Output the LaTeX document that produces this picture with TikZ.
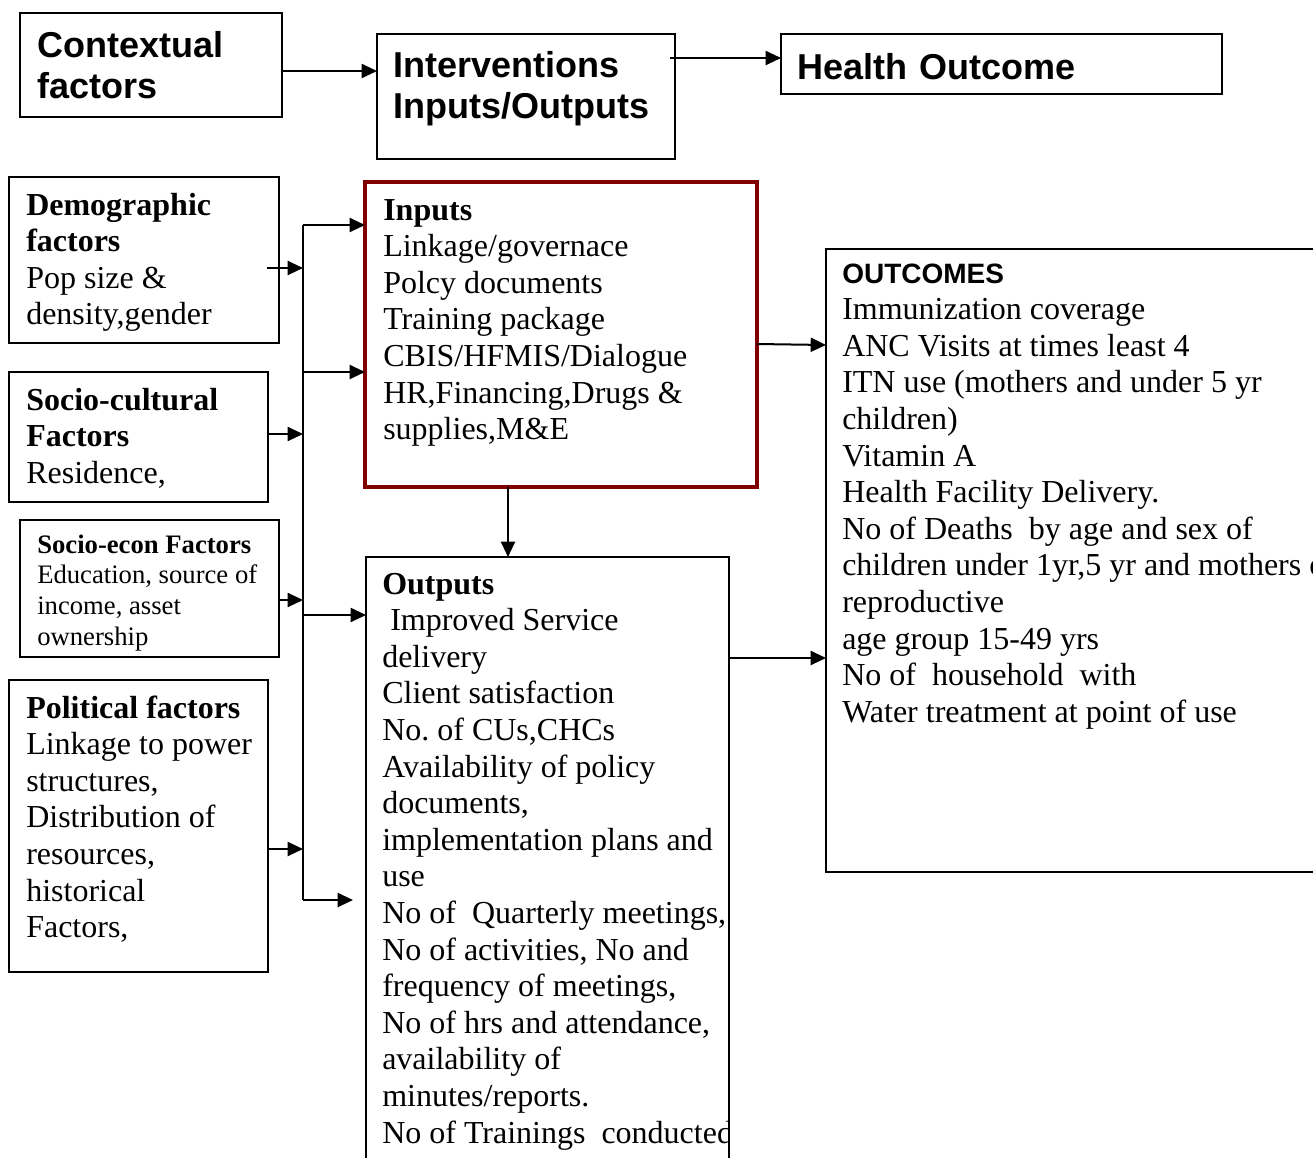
\documentclass[tikz,border=0pt]{standalone}
\usepackage{fontspec}
\setmainfont{Liberation Serif}
\setsansfont{Liberation Sans}
\usetikzlibrary{arrows.meta,fit}
\definecolor{boxred}{RGB}{128,0,0}
\frenchspacing
\newcommand\mytightsp{\spaceskip 0.25em\relax\xspaceskip 0.25em\relax}
\begin{document}
\begin{tikzpicture}[x=0.75pt,y=-0.75pt,
  boxst/.style={draw=black,line width=1.5pt,inner sep=0pt,outer sep=0pt},
  redbox/.style={boxst,draw=boxred,line width=3pt},
  arr/.style={line width=1.5pt,-{Triangle[length=11.5pt,width=10.5pt]}},
  ln/.style={line width=1.5pt},
  serif/.style={anchor=base west,inner sep=0pt,align=left,text width=520pt,font=\fontsize{24}{27.45}\selectfont,execute at begin node=\mytightsp},
  serifsm/.style={anchor=base west,inner sep=0pt,align=left,text width=300pt,font=\fontsize{20}{23}\selectfont,execute at begin node=\mytightsp},
  head/.style={anchor=base west,inner sep=0pt,align=left,text width=400pt,font=\sffamily\bfseries\fontsize{27}{31}\selectfont}]
\useasboundingbox (0,0) rectangle (1313,1157);
\clip (0,0) rectangle (1313,1157);

% top row
\node[boxst, fit={(20,13) (282,117)}] (ctx) {};
\node[boxst, fit={(377,34) (675,159)}] (intv) {};
\node[boxst, fit={(781,34) (1222,94)}] (hout) {};
\node[head] (ctxt) at (37,57) {Contextual\\factors};
\node[head] (intvt) at (393,77) {Interventions\\Inputs/Outputs};
\node[head] (houtt) at (797,79) {Health Outcome};
\draw[arr] (ctx.east |- 0,71) -- (intv.west |- 0,71);
\coordinate (io1) at (670,58);
\draw[arr] (io1) -- (hout.west |- io1);

% left factor boxes
\node[boxst, fit={(9,177) (279,343)}] (demo) {};
\node[boxst, fit={(9,372) (268,502)}] (socu) {};
\node[boxst, fit={(20,520) (279,657)}] (soec) {};
\node[boxst, fit={(9,680) (268,972)}] (poli) {};
\node[serif] (demot) at (26,215) {\textbf{Demographic}\\\textbf{factors}\\Pop size \&\\density,gender};
\node[serif] (socut) at (26,410) {\textbf{Socio-cultural}\\\textbf{Factors}\\Residence,};
\node[serifsm] (soect) at (37,553) {\textbf{Socio-econ Factors}\\Education, source of\\income, asset\\ownership};
\node[serif] (polit) at (26,718) {\textbf{Political factors}\\Linkage to power\\structures,\\Distribution of\\resources,\\historical\\Factors,};

% bus
\coordinate (busT) at (303,225);
\coordinate (busB) at (303,900);
\draw[ln] (busT) -- (busB);
\coordinate (demoOut) at (267,268);
\draw[arr] (demoOut) -- (demoOut -| busT);
\draw[arr] (socu.east |- 0,434) -- (busT |- 0,434);
\draw[arr] (soec.east |- 0,600) -- (busT |- 0,600);
\draw[arr] (poli.east |- 0,849) -- (busT |- 0,849);

% inputs / outputs
\node[redbox, fit={(365,182) (757,487)}] (inp) {};
\node[serif] (inpt) at (383,220) {\textbf{Inputs}\\Linkage/governace\\Polcy documents\\Training package\\CBIS/HFMIS/Dialogue\\HR,Financing,Drugs \&\\supplies,M\&E};
\node[boxst, fit={(366,557) (729,1200)}] (outp) {};
\begin{scope}
\clip (366,557) rectangle (728,1157);
\node[serif] (outpt) at (382,594) {\textbf{Outputs}\\\hspace*{6pt}Improved Service\\delivery\\Client satisfaction\\No. of CUs,CHCs\\Availability of policy\\documents,\\implementation plans and\\use\\No of\ \ Quarterly meetings,\\No of activities, No and\\frequency of meetings,\\No of hrs and attendance,\\availability of\\minutes/reports.\\No of Trainings\ \ conducted};
\end{scope}

\draw[arr] (busT) -- (inp.west |- busT);
\coordinate (b2) at (303,372);
\draw[arr] (b2) -- (inp.west |- b2);
\coordinate (b3) at (303,615);
\draw[arr] (b3) -- (outp.west |- b3);
\coordinate (b4tip) at (353,900);
\draw[arr] (busB) -- (b4tip);
\coordinate (io) at (508,487);
\draw[arr] (inp.south -| io) -- (outp.north -| io);

% outcomes
\node[boxst, fit={(826,249) (1340,872)}] (outc) {};
\node[serif] (outct) at (842,283) {{\sffamily\bfseries\fontsize{21}{23}\selectfont OUTCOMES}\\Immunization coverage\\ANC Visits at times least 4\\ITN use (mothers and under 5 yr\\children)\\Vitamin A\\Health Facility Delivery.\\No of Deaths\ \ by age and sex of\\children under 1yr,5 yr and mothers of\\reproductive\\age group 15-49 yrs\\No of\ \ household\ \ with\\Water treatment at point of use};
\draw[arr] (inp.east |- 0,344) -- (outc.west |- 0,345);
\draw[arr] (outp.east |- 0,658) -- (outc.west |- 0,658);
\end{tikzpicture}
\end{document}
